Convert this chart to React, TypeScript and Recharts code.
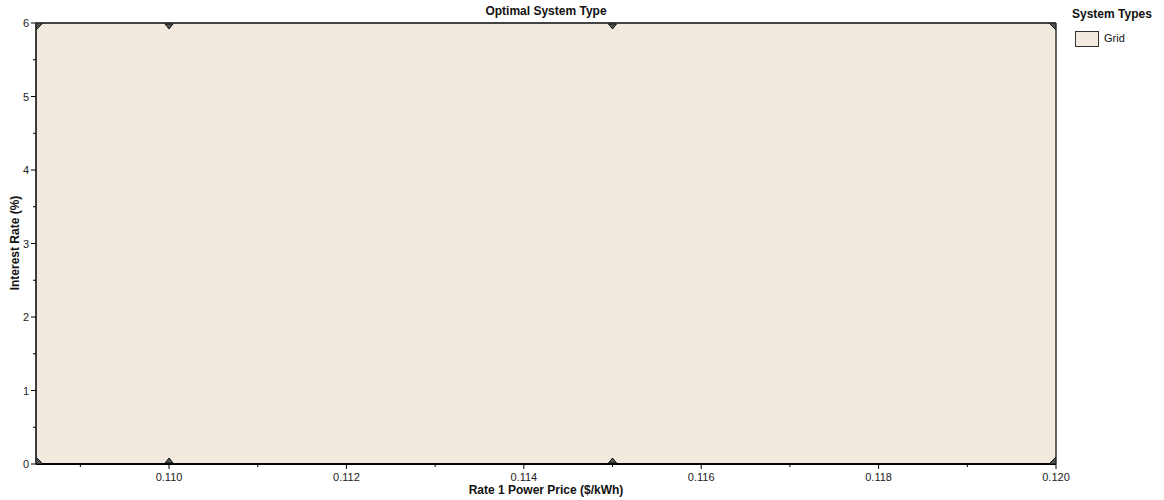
import {
  Area,
  ComposedChart,
  ReferenceLine,
  Scatter,
  XAxis,
  YAxis
} from 'recharts';

const powerPrices = [0.1085, 0.11, 0.115, 0.12];
const interestRates = [0, 6];
const gridTop = [6, 6, 6, 6];
const xTicks = [0.109, 0.11, 0.111, 0.112, 0.113, 0.114, 0.115, 0.116, 0.117, 0.118, 0.119, 0.12];
const xLabelled = [0.11, 0.112, 0.114, 0.116, 0.118, 0.12];
const yTicks = [0, 0.5, 1, 1.5, 2, 2.5, 3, 3.5, 4, 4.5, 5, 5.5, 6];
const yLabelled = [0, 1, 2, 3, 4, 5, 6];

const font = '"Liberation Sans", Arial, sans-serif';
const gridFill = '#f2e9df';
const xMin = 0.1085;
const xMax = 0.12;

const regionData = powerPrices.map((price, i) => ({ price, rate: gridTop[i] }));
const pointData = powerPrices.flatMap((price) => interestRates.map((rate) => ({ price, rate })));

const XTick = (props: any) => {
  const { x, y, payload } = props;
  const major = xLabelled.some((v) => Math.abs(v - payload.value) < 1e-9);
  return (
    <g>
      <line x1={x} x2={x} y1={y} y2={y + (major ? 5 : 3)} stroke="#000" />
      {major && (
        <text x={x} y={y + 17} textAnchor="middle" fontSize={11} fill="#222" fontFamily={font}>
          {payload.value.toFixed(3)}
        </text>
      )}
    </g>
  );
};

const YTick = (props: any) => {
  const { x, y, payload } = props;
  const major = yLabelled.includes(payload.value);
  return (
    <g>
      <line x1={x - (major ? 5 : 3)} x2={x} y1={y} y2={y} stroke="#000" />
      {major && (
        <text x={x - 7} y={y + 4} textAnchor="end" fontSize={11} fill="#222" fontFamily={font}>
          {payload.value}
        </text>
      )}
    </g>
  );
};

// small triangles sitting inside the plot border, corner pieces at the ends
const Marker = (props: any) => {
  const { cx, cy } = props;
  if (cx == null || cy == null) return null;
  const v = cy < 250 ? 1 : -1;
  let d: string;
  if (cx < 45) {
    d = `M${cx},${cy} L${cx + 7},${cy} L${cx},${cy + v * 7} Z`;
  } else if (cx > 1045) {
    d = `M${cx},${cy} L${cx - 7},${cy} L${cx},${cy + v * 7} Z`;
  } else {
    d = `M${cx - 4},${cy + v} L${cx + 4},${cy + v} L${cx},${cy + v * 6} Z`;
  }
  return <path d={d} fill="#555" stroke="#111" strokeWidth={1} />;
};

export default function App() {
  return (
    <div style={{ position: 'absolute', left: 0, top: 0, width: 1164, height: 500, fontFamily: font, background: '#fff' }}>
      <ComposedChart width={1164} height={500} data={regionData} margin={{ top: 23, right: 108, bottom: 6, left: 0 }}>
        <XAxis
          type="number"
          dataKey="price"
          domain={[xMin, xMax]}
          ticks={xTicks}
          interval={0}
          allowDataOverflow
          tick={<XTick />}
          tickLine={false}
          tickSize={0}
          tickMargin={0}
          height={30}
          axisLine={{ stroke: '#000', strokeWidth: 2 }}
        />
        <YAxis
          type="number"
          dataKey="rate"
          domain={[0, 6]}
          ticks={yTicks}
          interval={0}
          allowDataOverflow
          tick={<YTick />}
          tickLine={false}
          tickSize={0}
          tickMargin={0}
          width={36}
          axisLine={{ stroke: '#000', strokeWidth: 1.5 }}
        />
        <Area
          type="linear"
          dataKey="rate"
          baseValue={0}
          fill={gridFill}
          fillOpacity={1}
          stroke="none"
          isAnimationActive={false}
        />
        <ReferenceLine y={6} stroke="#444" strokeWidth={2} />
        <ReferenceLine x={xMax} stroke="#333" strokeWidth={1.5} />
        <Scatter data={pointData} dataKey="rate" shape={<Marker />} isAnimationActive={false} />
      </ComposedChart>

      <div style={{ position: 'absolute', left: 0, width: 1092, top: 4, textAlign: 'center', fontSize: 12, fontWeight: 'bold', color: '#111' }}>
        Optimal System Type
      </div>
      <div style={{ position: 'absolute', left: 0, width: 1092, top: 483, textAlign: 'center', fontSize: 12, fontWeight: 'bold', color: '#111' }}>
        Rate 1 Power Price ($/kWh)
      </div>
      <div
        style={{
          position: 'absolute',
          left: 15 - 100,
          top: 243 - 8,
          width: 200,
          height: 16,
          lineHeight: '16px',
          textAlign: 'center',
          fontSize: 12,
          fontWeight: 'bold',
          color: '#111',
          transform: 'rotate(-90deg)'
        }}
      >
        Interest Rate (%)
      </div>

      <div style={{ position: 'absolute', left: 1072, top: 7, fontSize: 12, fontWeight: 'bold', color: '#111', whiteSpace: 'nowrap' }}>
        System Types
      </div>
      <div style={{ position: 'absolute', left: 1075, top: 31, width: 22, height: 14, background: gridFill, border: '1px solid #333' }} />
      <div style={{ position: 'absolute', left: 1104, top: 32, fontSize: 11, color: '#111' }}>Grid</div>
    </div>
  );
}
